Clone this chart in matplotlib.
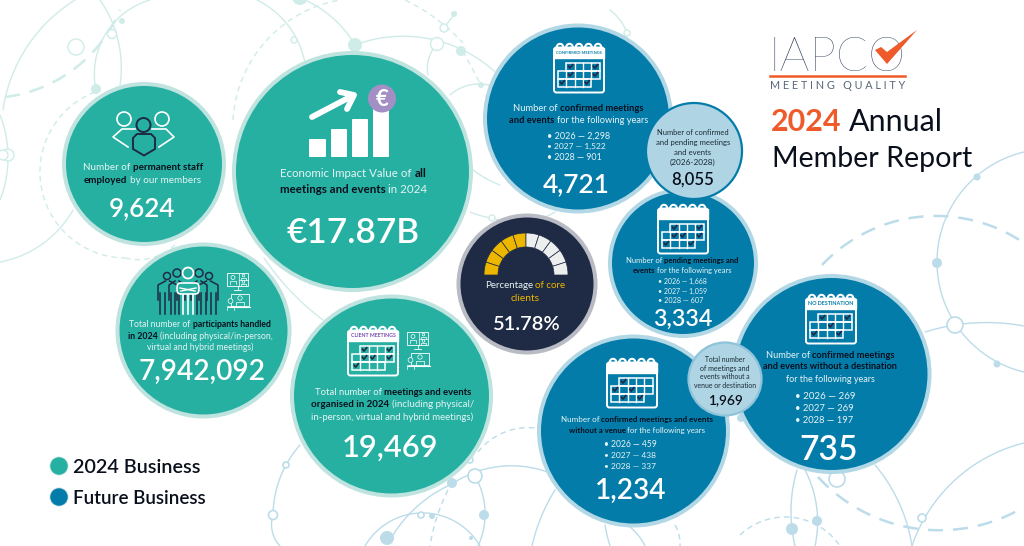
import numpy as np
import matplotlib
matplotlib.use("Agg")
import matplotlib.pyplot as plt
from matplotlib.patches import Circle, Rectangle, FancyBboxPatch, Polygon, Wedge
from matplotlib.font_manager import FontProperties

# ---------- data ----------
years = [2026, 2027, 2028]
confirmed_counts = [2298, 1522, 901]
pending_counts = [1668, 1059, 607]
no_venue_counts = [459, 438, 337]
no_destination_counts = [269, 269, 197]
staff_total = 9624
impact_billion_eur = 17.87
participants_total = 7942092
meetings_total = 19469
core_clients_pct = 51.78
confirmed_total = 4721
pending_total = 3334
confirmed_pending_total = 8055
no_venue_total = 1234
no_destination_total = 735
no_venue_or_destination_total = 1969
legend_labels = ["2024 Business", "Future Business"]
gauge_segments = 10

# ---------- style ----------
TEAL, TEAL_RING = "#25B0A2", "#BFE3DF"
BLUE, BLUE_RING = "#047CA9", "#B2D7E5"
NAVY, NAVY_RING = "#1F2A44", "#B9BBC4"
SKY = "#AFD5E5"
GOLD, PALE = "#EDB700", "#EDEEEE"
ORANGE = "#EE5A2A"
BG_T, BG_B = "#CFECE9", "#BCDCEA"
INK = "#0A0F1C"
W = "white"
SOFT = "#E6F4F4"
FONT = "Lato"
BODY_WEIGHT = "regular"
VALUE_WEIGHT = "semibold"

fig = plt.figure(figsize=(10.24, 5.46), dpi=100, facecolor="white")
ax = fig.add_axes([0, 0, 1, 1])
ax.set_xlim(0, 1024)
ax.set_ylim(546, 0)
ax.axis("off")
renderer = fig.canvas.get_renderer()


def width_of(s, weight, size, family=FONT):
    fp = FontProperties(family=family, weight=weight, size=size)
    return renderer.get_text_width_height_descent(s, fp, False)[0]


def space_of(weight, size):
    return width_of("n n", weight, size) - width_of("nn", weight, size)


def line_width(segs, size):
    total = 0
    for i, (s, c, wt) in enumerate(segs):
        total += width_of(s, wt, size)
        if i < len(segs) - 1:
            total += space_of(wt, size)
    return total


def rich(cx, cy, segs, target, z=20, left=None, cap=False):
    """Draw coloured segments on one line, scaled so that the line is target px wide."""
    size = 10.0 * target / line_width(segs, 10.0)
    tw = line_width(segs, size)
    x = cx - tw / 2 if left is None else left
    px = size * 100 / 72
    base = cy + (0.36 if cap else 0.27) * px
    for s, c, wt in segs:
        ax.text(x, base, s, color=c, fontsize=size, fontweight=wt, family=FONT,
                ha="left", va="baseline", zorder=z)
        x += width_of(s, wt, size) + space_of(wt, size)


def L(text, color=SOFT, weight=BODY_WEIGHT):
    return (text, color, weight)


def B(text, color=INK):
    return (text, color, "bold")


def V(value_text, color=W):
    return (value_text, color, VALUE_WEIGHT)


def bubble(cx, cy, r, fill, ring, ring_w=4, z=5):
    ax.add_patch(Circle((cx, cy), r, fc=ring, ec="none", zorder=z))
    ax.add_patch(Circle((cx, cy), r - ring_w, fc=fill, ec="none", zorder=z + 0.1))


def curve(p1, p2, p3, color, lw=1.0, ls="-"):
    """Circular arc through three points."""
    (ax_, ay), (bx, by), (cx, cy) = p1, p2, p3
    d = 2 * (ax_ * (by - cy) + bx * (cy - ay) + cx * (ay - by))
    if abs(d) < 1e-6:
        pts = np.array([p1, p3], dtype=float)
    else:
        ux = ((ax_**2 + ay**2) * (by - cy) + (bx**2 + by**2) * (cy - ay) + (cx**2 + cy**2) * (ay - by)) / d
        uy = ((ax_**2 + ay**2) * (cx - bx) + (bx**2 + by**2) * (ax_ - cx) + (cx**2 + cy**2) * (bx - ax_)) / d
        r = np.hypot(ax_ - ux, ay - uy)
        a1 = np.arctan2(ay - uy, ax_ - ux)
        a2 = np.arctan2(by - uy, bx - ux)
        a3 = np.arctan2(cy - uy, cx - ux)
        def ccw(a, b):
            return (b - a) % (2 * np.pi)
        if ccw(a1, a2) <= ccw(a1, a3):
            th = np.linspace(a1, a1 + ccw(a1, a3), 80)
        else:
            th = np.linspace(a1, a1 - ccw(a3, a1), 80)
        pts = np.column_stack([ux + r * np.cos(th), uy + r * np.sin(th)])
    ax.plot(pts[:, 0], pts[:, 1], color=color, lw=lw, ls=ls, zorder=1, solid_capstyle="round")


def node(x, y, r, color, ring=False, lw=1.0):
    if ring:
        ax.add_patch(Circle((x, y), r, fc="white", ec=color, lw=lw, zorder=2))
    else:
        ax.add_patch(Circle((x, y), r, fc=color, ec="none", zorder=2))


def calendar(cx, cy, label=None, label_color=BLUE, checks=()):
    w, h = 52, 51
    x0, y0 = cx - w / 2, cy - h / 2
    ax.add_patch(FancyBboxPatch((x0 + 1, y0 + 5), w - 2, h - 6, boxstyle="round,pad=0,rounding_size=2.5",
                                fc="none", ec=W, lw=1.4, zorder=12))
    ax.add_patch(Rectangle((x0 + 1, y0 + 5), w - 2, 10, fc=W, ec=W, lw=1, zorder=12))
    for i in range(5):
        hx = x0 + 7 + i * 9.5
        t = np.linspace(np.pi, 2.1 * np.pi, 12)
        ax.plot(hx + 3.2 * np.cos(t), y0 + 4.5 + 3.2 * np.sin(t), color=W, lw=1.5, zorder=13)
        ax.plot([hx - 3.2, hx - 3.2], [y0 + 4.5, y0 + 9], color=W, lw=1.5, zorder=13)
        ax.plot([hx + 3.2, hx + 3.2], [y0 + 4.5, y0 + 7.5], color=W, lw=1.2, zorder=13)
    if label:
        rich(cx, y0 + 10.5, [(label, label_color, "bold")], min(w - 6, 3.35 * len(label)), z=14)
    gx, gy, cw, ch = x0 + 5, y0 + 20, 8.3, 8.0
    spans = [(1, 5), (0, 5), (0, 4)]
    for row, (a, b) in enumerate(spans):
        ax.add_patch(Rectangle((gx + a * cw, gy + row * ch), (b - a) * cw, ch, fc="none", ec=W, lw=1.1, zorder=13))
        for c in range(a + 1, b):
            ax.plot([gx + c * cw] * 2, [gy + row * ch, gy + (row + 1) * ch], color=W, lw=1.0, zorder=13)
    for row, col in checks:
        mx, my = gx + (col + 0.5) * cw, gy + (row + 0.5) * ch
        ax.plot([mx - 2, mx - 0.5, mx + 2.2], [my - 0.3, my + 1.6, my - 1.8], color=NAVY, lw=1.2, zorder=14)


def screens(x, y):
    ec = W
    ax.add_patch(Rectangle((x, y), 21, 13, fc="none", ec=ec, lw=0.6, zorder=13))
    ax.plot([x + 12, x + 12], [y, y + 13], color=ec, lw=0.5, zorder=13)
    ax.plot([x + 12, x + 21], [y + 6.5, y + 6.5], color=ec, lw=0.5, zorder=13)
    ax.plot([x + 10.5, x + 10.5], [y + 13, y + 16], color=ec, lw=0.6, zorder=13)
    ax.plot([x + 7, x + 14], [y + 16.5, y + 16.5], color=ec, lw=0.6, zorder=13)
    for px, py, r in [(x + 6, y + 4.5, 2), (x + 16.5, y + 2.6, 1.3), (x + 16.5, y + 9, 1.3)]:
        ax.add_patch(Circle((px, py), r, fc="none", ec=ec, lw=0.5, zorder=13))
        ax.plot([px - r * 1.6, px - r * 1.6, px + r * 1.6, px + r * 1.6],
                [py + r * 3, py + r * 1.5, py + r * 1.5, py + r * 3], color=ec, lw=0.5, zorder=13)
    yy = y + 21
    ax.add_patch(Rectangle((x + 4, yy), 18, 12, fc="none", ec=ec, lw=0.6, zorder=13))
    ax.plot([x + 1, x + 23], [yy + 13, yy + 13], color=ec, lw=0.8, zorder=13)
    ax.add_patch(Circle((x + 13, yy + 4), 2.2, fc="none", ec=ec, lw=0.5, zorder=13))
    ax.plot([x + 9, x + 9, x + 17, x + 17], [yy + 12, yy + 8, yy + 8, yy + 12], color=ec, lw=0.5, zorder=13)
    ax.add_patch(Circle((x + 3.5, yy + 7), 2.4, fc=TEAL, ec=ec, lw=0.5, zorder=14))
    ax.plot([x, x, x + 7, x + 7], [yy + 16, yy + 11.5, yy + 11.5, yy + 16], color=ec, lw=0.5, zorder=14)


def bullets(left, rows, counts, width_list):
    for y, yr, n, w in zip(rows, years, counts, width_list):
        rich(0, y, [L(f"\u2022 {yr} \u2014 {n:,}")], w, left=left)


# ---------- background network ----------
t_curves = [
    ((3, 110), (25, 50), (75, 0)), ((100, 0), (118, 40), (120, 85)), ((96, 90), (105, 35), (150, 0)),
    ((0, 262), (45, 242), (73, 210)), ((0, 115), (8, 155), (0, 200)), ((257, 0), (290, 28), (305, 63)),
    ((305, 0), (335, 20), (355, 45)), ((355, 45), (425, 38), (495, 72)), ((437, 44), (430, 55), (428, 75)),
    ((450, 95), (478, 84), (495, 87)), ((473, 170), (487, 179), (500, 185)), ((470, 212), (482, 216), (492, 218)),
    ((492, 218), (525, 222), (555, 212)), ((610, 10), (620, 20), (627, 33)), ((264, 258), (285, 285), (323, 320)),
    ((444, 28), (450, 20), (456, 12)),
]
for c in t_curves:
    curve(*c, BG_T, lw=1.0)
curve((5, 97), (70, 72), (120, 10), BG_T, lw=1.8, ls=(0, (6, 4)))
curve((95, 92), (40, 170), (125, 258), BG_T, lw=1.0, ls=(0, (4, 3)))
curve((125, 258), (155, 257), (175, 245), BG_T, lw=1.0, ls=(0, (4, 3)))
curve((233, 120), (255, 55), (340, 0), BG_T, lw=1.0, ls=(0, (4, 3)))
curve((405, 0), (435, 18), (463, 43), BG_T, lw=1.0, ls=(0, (4, 3)))
curve((463, 51), (472, 68), (481, 85), BG_T, lw=1.0, ls=(0, (4, 3)))
for n in [(96, 89, 5, False), (122, 21, 3, False), (112, 34, 4.5, True), (76, 47, 8, True), (8, 155, 6, True),
          (3, 155, 5, True), (355, 45, 7, False), (300, -3, 8, False), (294, 40, 3, True), (437, 44, 6.5, True),
          (444, 28, 4, True), (454, 14, 3, False), (461, 51, 5, False), (481, 85, 3, False), (492, 218, 3, True),
          (627, 33, 3, True)]:
    node(*n[:3], BG_T, ring=n[3])

b_curves = [
    ((300, 445), (286, 465), (273, 515)), ((273, 515), (272, 530), (280, 546)), ((390, 540), (425, 500), (452, 484)),
    ((452, 484), (490, 468), (550, 473)), ((365, 546), (420, 513), (480, 546)), ((475, 476), (485, 510), (478, 546)),
    ((555, 490), (542, 515), (532, 546)), ((605, 525), (607, 535), (610, 546)), ((630, 527), (638, 535), (645, 546)),
    ((797, 470), (791, 510), (795, 546)), ((805, 470), (817, 510), (815, 546)), ((875, 465), (900, 505), (912, 546)),
    ((912, 546), (945, 490), (1024, 443)),
    ((1024, 152), (937, 263), (1024, 372)),
    ((925, 332), (955, 325), (1024, 326)),
]
for c in b_curves:
    curve(*c, BG_B, lw=1.0)
curve((478, 452), (505, 432), (535, 428), BG_B, lw=1.0, ls=(0, (4, 3)))
curve((448, 490), (436, 520), (430, 546), BG_B, lw=1.0, ls=(0, (4, 3)))
curve((675, 525), (679, 535), (680, 546), BG_B, lw=1.0, ls=(0, (4, 3)))
curve((740, 535), (785, 517), (840, 546), BG_B, lw=1.0, ls=(0, (4, 3)))
curve((822, 265), (932, 216), (1024, 243), BG_B, lw=1.8, ls=(0, (6, 4)))
curve((818, 477), (907, 527), (1024, 507), BG_B, lw=1.8, ls=(0, (6, 4)))
for n in [(286, 465, 3, True), (273, 515, 4.5, True), (452, 483, 5, False), (475, 476, 7, True), (470, 460, 3, True),
          (484, 515, 5, False), (432, 516, 3, False), (421, 515, 3, True), (387, 538, 7, False), (471, 538, 2, False),
          (792, 529, 6, False), (817, 521, 5, False), (837, 479, 8, True), (922, 518, 4, True), (977, 177, 3.5, False),
          (937, 263, 5, False), (955, 325, 8, True), (997, 364, 3.5, False), (741, 418, 4, False)]:
    node(*n[:3], BG_B, ring=n[3], lw=1.2)

# ---------- bubbles ----------
bubble(144, 164, 82, TEAL, TEAL_RING)
bubble(352.5, 171.5, 120.5, TEAL, TEAL_RING)
bubble(203.5, 330.5, 88, TEAL, TEAL_RING)
bubble(391.5, 396, 101.5, TEAL, TEAL_RING)
bubble(527, 284, 70.5, NAVY, NAVY_RING)
bubble(578, 118.5, 95, BLUE, BLUE_RING)
bubble(683, 263, 75, BLUE, BLUE_RING, z=6)
bubble(633.5, 431, 96.5, BLUE, BLUE_RING)
bubble(831.5, 374, 100, BLUE, BLUE_RING)
ax.add_patch(Circle((694, 151), 48, fc=SKY, ec=BLUE, lw=1.6, zorder=9))
ax.add_patch(Circle((725, 379), 36.5, fc=SKY, ec="#8FC3DA", lw=1.6, zorder=9))

# ---------- staff ----------
ax.add_patch(Circle((124, 119), 7, fc="none", ec=W, lw=1.2, zorder=13))
ax.add_patch(Circle((162, 119), 7, fc="none", ec=W, lw=1.2, zorder=13))
ax.add_patch(Circle((143.5, 125), 7, fc="none", ec=NAVY, lw=1.4, zorder=13))
ax.add_patch(Polygon([(137, 134), (151, 134), (155, 138), (155, 149), (144, 155.5), (133, 149), (133, 138)],
                     closed=True, fc="none", ec=NAVY, lw=1.4, joinstyle="round", zorder=13))
ax.plot([135, 122, 113, 128], [129, 129, 137, 147], color=W, lw=1.2, solid_joinstyle="round", zorder=13)
ax.plot([152, 166, 174, 159], [129, 129, 137, 147], color=W, lw=1.2, solid_joinstyle="round", zorder=13)
rich(143, 167, [L("Number of"), B("permanent staff")], 120)
rich(142.5, 180, [B("employed"), L("by our members")], 117)
rich(142, 207, [V(f"{staff_total:,}")], 66, cap=True)

# ---------- economic impact ----------
for x0, x1, yt in [(309, 326, 139), (331, 347, 129), (352, 368, 119), (373, 389, 107)]:
    ax.add_patch(FancyBboxPatch((x0, yt), x1 - x0, 157 - yt, boxstyle="round,pad=0,rounding_size=1",
                                fc=W, ec="none", zorder=12))
ax.plot([312, 352], [117, 96], color=W, lw=4.2, solid_capstyle="round", zorder=13)
ax.plot([340, 354, 347], [92, 95, 109], color=W, lw=4.2, solid_capstyle="round", solid_joinstyle="round", zorder=13)
ax.add_patch(Circle((382, 98.5), 14, fc="#A48FC4", ec="none", zorder=14))
ax.text(382, 99, "\u20ac", color=W, fontsize=16, fontweight="bold", family=FONT, ha="center", va="center", zorder=15)
rich(353.5, 174, [L("Economic Impact Value of"), B("all")], 147)
rich(353.5, 190, [B("meetings and events"), L("in 2024")], 148)
rich(353.5, 230, [V(f"\u20ac{impact_billion_eur}B")], 133, cap=True)

# ---------- participants ----------
for hx, hy, hr, bx0, bx1 in [(167, 276, 3.5, 158, 177), (209, 276, 3.5, 199, 218), (177, 273, 4, 169, 185), (199, 273, 4, 191, 207)]:
    ax.add_patch(Circle((hx, hy), hr, fc="none", ec=NAVY, lw=1.1, zorder=13))
    ax.plot([bx0, bx0, (bx0 + bx1) / 2 - 2], [300, 285, 281], color=NAVY, lw=1.1, zorder=13)
    ax.plot([bx1, bx1, (bx0 + bx1) / 2 + 2], [300, 285, 281], color=NAVY, lw=1.1, zorder=13)
for vx in [160, 165, 171, 175, 179, 197, 201, 206, 211, 216]:
    ax.plot([vx, vx], [293, 314], color=NAVY, lw=1.1, zorder=13)
ax.add_patch(Circle((188, 273), 5.5, fc=TEAL, ec=W, lw=1.3, zorder=14))
ax.add_patch(FancyBboxPatch((177, 283), 22, 11, boxstyle="round,pad=0,rounding_size=4", fc=TEAL, ec=W, lw=1.2, zorder=14))
ax.plot([180, 195], [288, 291], color=W, lw=1, zorder=15)
ax.plot([196, 181], [288, 291], color=W, lw=1, zorder=15)
for vx in [183, 188, 193]:
    ax.plot([vx, vx], [295, 314], color=W, lw=1.2, zorder=14)
screens(227, 273)
rich(200, 325, [L("Total number of"), B("participants handled")], 141)
rich(200, 337, [B("in 2024"), L("(including physical/in-person,")], 144)
rich(200, 348, [L("virtual and hybrid meetings)")], 106)
rich(202, 370, [V(f"{participants_total:,}")], 127, cap=True)

# ---------- meetings ----------
calendar(373, 351, "CLIENT MEETINGS", "#7B4FB5", [(0, 1), (0, 4), (1, 1), (1, 2), (1, 4), (2, 0)])
screens(407, 332)
rich(393, 392, [L("Total number of"), B("meetings and events")], 158)
rich(392.5, 404, [B("organised in 2024"), L("(including physical/")], 163)
rich(392.5, 417, [L("in-person, virtual and hybrid meetings)")], 163)
rich(390, 446, [V(f"{meetings_total:,}")], 96, cap=True)

# ---------- core clients ----------
gx, gy, r_out, r_in = 526, 275, 42, 28
filled = int(round(core_clients_pct / 100 * gauge_segments))
step = 180 / gauge_segments
for i in range(gauge_segments):
    col = GOLD if i < filled else PALE
    ax.add_patch(Wedge((gx, gy), r_out, 180 + i * step, 180 + (i + 1) * step, width=r_out - r_in,
                       fc=col, ec=NAVY, lw=0.5, zorder=12))
rich(525, 285, [L("Percentage"), ("of core", GOLD, "regular")], 82)
rich(525, 298, [("clients", GOLD, "regular")], 29)
rich(526, 323, [V(f"{core_clients_pct}%")], 68, cap=True)

# ---------- confirmed ----------
calendar(579, 68, "CONFIRMED MEETINGS", BLUE, [(0, 1), (0, 4), (1, 1), (1, 4), (2, 0), (2, 3)])
rich(578.5, 108, [L("Number of"), B("confirmed meetings")], 131)
rich(578.5, 121, [B("and events"), L("for the following years")], 139)
bullets(547, [136, 147, 158], confirmed_counts, [63, 59, 55])
rich(576, 183, [V(f"{confirmed_total:,}")], 67, cap=True)

# ---------- confirmed + pending ----------
D = "#1A2A35"
for y, txt, w in [(133, "Number of confirmed", 72), (143, "and pending meetings", 75), (153, "and events", 37), (163, "(2026-2028)", 46)]:
    rich(693, y, [L(txt, D)], w)
rich(693, 179, [V(f"{confirmed_pending_total:,}", INK)], 43, cap=True)

# ---------- pending ----------
calendar(683, 229, None, BLUE, [(0, 1), (0, 4), (1, 1), (1, 2), (1, 4), (2, 0), (2, 3)])
rich(682.5, 261, [L("Number of"), B("pending meetings and")], 113)
rich(682.5, 271, [B("events"), L("for the following years")], 98)
bullets(658, [282, 292, 301], pending_counts, [49, 49, 45])
rich(683, 317, [V(f"{pending_total:,}")], 59, cap=True)

# ---------- no venue ----------
calendar(632, 383, None, BLUE, [(0, 1), (1, 0), (1, 2), (2, 1), (2, 3)])
rich(637, 420, [L("Number of"), B("confirmed meetings and events")], 153)
rich(637, 431, [B("without a venue"), L("for the following years")], 137)
bullets(604, [445, 456, 467], no_venue_counts, [53, 52, 52])
rich(631, 489, [V(f"{no_venue_total:,}")], 71, cap=True)

# ---------- no venue or destination ----------
for y, txt, w in [(360, "Total number", 40), (369, "of meetings and", 49), (377, "events without a", 50), (386, "venue or destination", 62)]:
    rich(725, y, [L(txt, D)], w)
rich(725, 399, [V(f"{no_venue_or_destination_total:,}", INK)], 35, cap=True)

# ---------- no destination ----------
calendar(831, 319, "NO DESTINATION", BLUE, [(0, 1), (0, 4), (1, 2), (2, 0), (2, 3)])
rich(830, 355, [L("Number of"), B("confirmed meetings")], 129)
rich(830, 367, [B("and events without a destination")], 133)
rich(830, 380, [L("for the following years")], 89)
bullets(795, [396, 408, 420], no_destination_counts, [61, 59, 58])
rich(829, 448, [V(f"{no_destination_total:,}")], 59, cap=True)

# ---------- logo and title ----------
LOGO = "#33435E"
rich(0, 54, [("IAPCO", LOGO, "light")], 137, left=769, cap=True)
ax.add_patch(Polygon([(875, 50), (881, 47), (887, 52), (917, 30), (887, 64)], closed=True, fc=ORANGE, ec="none", zorder=25))
ax.plot([770, 905], [76, 76], color=ORANGE, lw=1.8, zorder=20)
rich(837.5, 85, [("\u2009\u2009".join("MEETING QUALITY"), "#5A6678", "regular")], 135, cap=True)
rich(0, 120, [("2024", ORANGE, "bold"), ("Annual", INK, "regular")], 172, left=771, cap=True)
rich(0, 157, [("Member Report", INK, "regular")], 201, left=772, cap=True)

# ---------- legend ----------
for y, col, lab, w in zip([466, 497], [TEAL, BLUE], legend_labels, [127, 133]):
    ax.add_patch(Circle((59, y), 9.5, fc=col, ec="none", alpha=0.25, zorder=10))
    ax.add_patch(Circle((59, y), 8.7, fc=col, ec="none", zorder=11))
    rich(0, y, [(lab, INK, VALUE_WEIGHT)], w, left=73, cap=True)

fig.savefig("out.png", dpi=100, facecolor="white")
